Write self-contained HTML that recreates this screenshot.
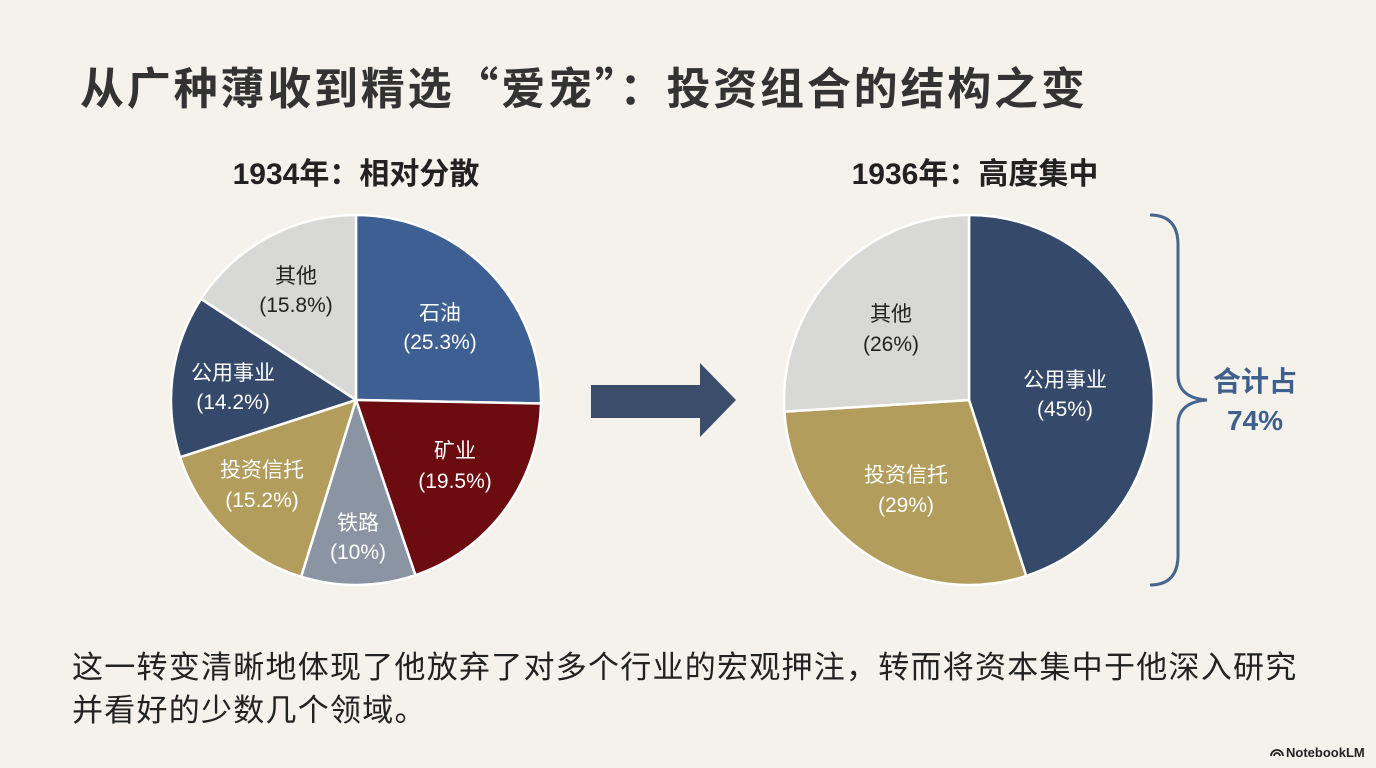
<!DOCTYPE html>
<html><head><meta charset="utf-8"><style>
html,body{margin:0;padding:0;}
body{width:1376px;height:768px;background:#f4f2ea;overflow:hidden;position:relative;font-family:"Liberation Sans","Noto Sans CJK SC",sans-serif;}
</style></head><body>
<svg width="1376" height="768" viewBox="0 0 1376 768" xmlns="http://www.w3.org/2000/svg" style="position:absolute;left:0;top:0">
<g font-family="Liberation Sans, Noto Sans CJK SC, sans-serif">
<text x="80" y="104" font-size="44" font-weight="bold" fill="#333" letter-spacing="2.8">从广种薄收到精选<tspan font-family="Noto Sans CJK SC, sans-serif">“</tspan>爱宠<tspan font-family="Noto Sans CJK SC, sans-serif">”</tspan>：投资组合的结构之变</text>
<text x="356" y="184" font-size="30" font-weight="bold" fill="#222" text-anchor="middle">1934年：相对分散</text>
<text x="975" y="184" font-size="30" font-weight="bold" fill="#222" text-anchor="middle">1936年：高度集中</text>

<g stroke="#fff" stroke-width="2.5" stroke-linejoin="round">
<path d="M356,400 L356,215 A185,185 0 0 1 540.97,403.49 Z" fill="#3d5f92"/>
<path d="M356,400 L540.97,403.49 A185,185 0 0 1 415.4,575.2 Z" fill="#6c0b10"/>
<path d="M356,400 L415.4,575.2 A185,185 0 0 1 301.1,576.7 Z" fill="#8a94a3"/>
<path d="M356,400 L301.1,576.7 A185,185 0 0 1 180.1,457.2 Z" fill="#b39d5c"/>
<path d="M356,400 L180.1,457.2 A185,185 0 0 1 201.1,298.9 Z" fill="#35496a"/>
<path d="M356,400 L201.1,298.9 A185,185 0 0 1 356,215 Z" fill="#d8d8d6"/>

<path d="M969,400 L969,215 A185,185 0 0 1 1026.2,575.9 Z" fill="#35496a"/>
<path d="M969,400 L1026.2,575.9 A185,185 0 0 1 784.4,411.6 Z" fill="#b39d5c"/>
<path d="M969,400 L784.4,411.6 A185,185 0 0 1 969,215 Z" fill="#d8d8d6"/>
</g>

<g font-size="21" text-anchor="middle">
<text x="440" y="320" fill="#fff">石油</text><text x="440" y="349" fill="#fff">(25.3%)</text>
<text x="455" y="458" fill="#fff">矿业</text><text x="455" y="488" fill="#fff">(19.5%)</text>
<text x="358" y="530" fill="#fff">铁路</text><text x="358" y="559" fill="#fff">(10%)</text>
<text x="262" y="477" fill="#fff">投资信托</text><text x="262" y="507" fill="#fff">(15.2%)</text>
<text x="233" y="380" fill="#fff">公用事业</text><text x="233" y="409" fill="#fff">(14.2%)</text>
<text x="296" y="283" fill="#222">其他</text><text x="296" y="312" fill="#222">(15.8%)</text>

<text x="891" y="321" fill="#222">其他</text><text x="891" y="351" fill="#222">(26%)</text>
<text x="1065" y="387" fill="#fff">公用事业</text><text x="1065" y="416" fill="#fff">(45%)</text>
<text x="906" y="482" fill="#fff">投资信托</text><text x="906" y="512" fill="#fff">(29%)</text>
</g>

<path d="M591,385 L700,385 L700,363 L736,400 L700,437 L700,418 L591,418 Z" fill="#3b4d6b"/>

<path d="M1150,215 Q1178,215 1178,245 L1178,375 Q1178,398 1207,400 Q1178,402 1178,425 L1178,555 Q1178,585 1150,585" fill="none" stroke="#466690" stroke-width="3"/>
<text x="1255" y="391" font-size="28" font-weight="bold" fill="#3f5f8c" text-anchor="middle">合计占</text>
<text x="1255" y="430" font-size="28" font-weight="bold" fill="#3f5f8c" text-anchor="middle">74%</text>

<text x="72" y="678" font-size="31" fill="#222" letter-spacing="1.25">这一转变清晰地体现了他放弃了对多个行业的宏观押注，转而将资本集中于他深入研究</text>
<text x="72" y="721" font-size="31" fill="#222" letter-spacing="1.25">并看好的少数几个领域。</text>

<text x="1286" y="757" font-size="13" font-weight="bold" fill="#222">NotebookLM</text>
<path d="M1271,756 a6,6 0 0 1 12,0 M1274,756 a3,3 0 0 1 6,0" fill="none" stroke="#222" stroke-width="1.8"/>
</g>
</svg>
</body></html>
